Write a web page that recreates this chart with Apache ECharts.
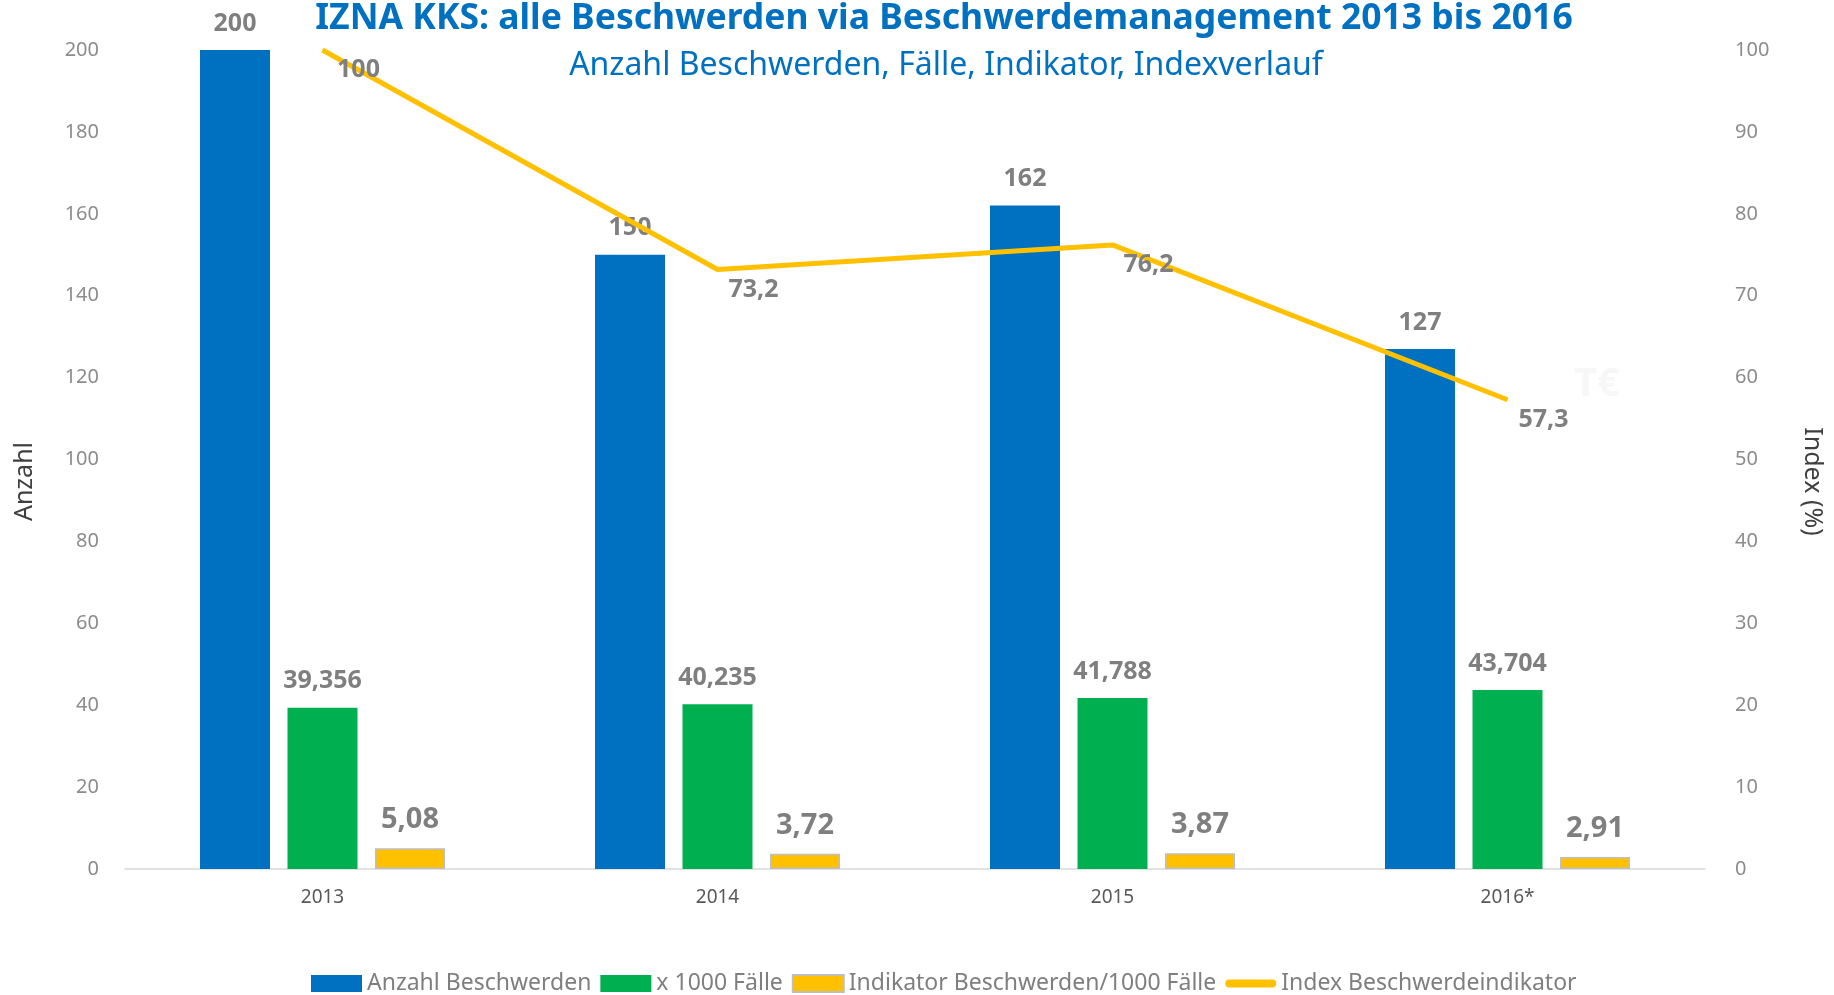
<!DOCTYPE html>
<html>
<head>
<meta charset="utf-8">
<script src="https://cdn.jsdelivr.net/npm/echarts@6/dist/echarts.min.js"></script>
<style>
  html, body { margin: 0; padding: 0; background: #fff; }
  #chart { width: 1834px; height: 995px; }
</style>
</head>
<body>
<div id="chart"></div>
<script>
// data
var years = ['2013', '2014', '2015', '2016*'];
var anzahl = [200, 150, 162, 127];
var faelle = [39.356, 40.235, 41.788, 43.704];
var indikator = [5.08, 3.72, 3.87, 2.91];
var indexVerlauf = [100, 73.2, 76.2, 57.3];

var leftTicks = { min: 0, max: 200, interval: 20 };
var rightTicks = { min: 0, max: 100, interval: 10 };

var FONT = '"Noto Sans", "Open Sans", sans-serif';
var blue = '#0070C0', green = '#00B050', yellow = '#FFC000';
var labelGrey = '#7f7f7f';

function deComma(digits) {
    return function (p) {
        return p.value.toFixed(digits).replace('.', ',');
    };
}

var chart = echarts.init(document.getElementById('chart'));

var option = {
    backgroundColor: '#fff',
    textStyle: { fontFamily: FONT },
    title: [
        {
            text: 'IZNA KKS: alle Beschwerden via Beschwerdemanagement 2013 bis 2016',
            left: 939, top: -4, textAlign: 'center',
            textStyle: { color: blue, fontSize: 35.5, fontWeight: 'bold', fontFamily: FONT }
        },
        {
            text: 'Anzahl Beschwerden, Fälle, Indikator, Indexverlauf',
            left: 941, top: 45, textAlign: 'center',
            textStyle: { color: blue, fontSize: 32, fontWeight: 'normal', fontFamily: FONT }
        }
    ],
    legend: {
        bottom: -5,
        left: 306,
        itemWidth: 51,
        itemHeight: 17,
        itemGap: 9,
        textStyle: { color: '#7f7f7f', fontSize: 23, fontFamily: FONT },
        data: [
            { name: 'Anzahl Beschwerden', icon: 'rect' },
            { name: 'x 1000 Fälle', icon: 'rect' },
            { name: 'Indikator Beschwerden/1000 Fälle', icon: 'rect' },
            { name: 'Index Beschwerdeindikator', icon: 'path://M4,0 L47,0 A4,4 0 0 1 47,8 L4,8 A4,4 0 0 1 4,0 Z' }
        ]
    },
    grid: { left: 125, right: 129, top: 50, bottom: 126 },
    xAxis: {
        type: 'category',
        data: years,
        axisLine: { lineStyle: { color: '#d9d9d9', width: 1.5 } },
        axisTick: { show: false },
        axisLabel: { color: '#595959', fontSize: 19, margin: 19 }
    },
    yAxis: [
        {
            type: 'value',
            min: leftTicks.min, max: leftTicks.max, interval: leftTicks.interval,
            name: 'Anzahl',
            nameLocation: 'middle',
            nameGap: 88,
            nameTextStyle: { color: '#404040', fontSize: 25, fontFamily: FONT, padding: [0, 44, 0, 0] },
            axisLine: { show: false },
            axisTick: { show: false },
            splitLine: { show: false },
            axisLabel: { color: '#8c8c8c', fontSize: 20, margin: 26 }
        },
        {
            type: 'value',
            min: rightTicks.min, max: rightTicks.max, interval: rightTicks.interval,
            name: 'Index (%)',
            nameLocation: 'middle',
            nameGap: 95,
            nameRotate: -90,
            nameTextStyle: { color: '#404040', fontSize: 25, fontFamily: FONT, padding: [0, 0, 0, 44] },
            axisLine: { show: false },
            axisTick: { show: false },
            splitLine: { show: false },
            axisLabel: { color: '#8c8c8c', fontSize: 20, margin: 30 }
        }
    ],
    series: [
        {
            name: 'Anzahl Beschwerden',
            type: 'bar',
            data: anzahl,
            barWidth: 70,
            barGap: '25%',
            itemStyle: { color: blue },
            label: {
                show: true, position: 'top', distance: 14,
                color: labelGrey, fontSize: 25, fontWeight: 'bold'
            }
        },
        {
            name: 'x 1000 Fälle',
            type: 'bar',
            data: faelle,
            barWidth: 70,
            barGap: '25%',
            itemStyle: { color: green },
            label: {
                show: true, position: 'top', distance: 14,
                color: labelGrey, fontSize: 25, fontWeight: 'bold',
                formatter: deComma(3)
            }
        },
        {
            name: 'Indikator Beschwerden/1000 Fälle',
            type: 'bar',
            data: indikator,
            barWidth: 70,
            barGap: '25%',
            itemStyle: { color: yellow, borderColor: '#bfbfbf', borderWidth: 1.5 },
            label: {
                show: true, position: 'top', distance: 14,
                color: labelGrey, fontSize: 29, fontWeight: 'bold',
                formatter: deComma(2)
            }
        },
        {
            name: 'Index Beschwerdeindikator',
            type: 'line',
            yAxisIndex: 1,
            data: indexVerlauf,
            symbol: 'circle',
            symbolSize: 1,
            showSymbol: true,
            lineStyle: { color: yellow, width: 5 },
            itemStyle: { color: yellow },
            z: 5,
            label: {
                show: true, position: 'bottom', distance: 7, offset: [36, 0],
                color: labelGrey, fontSize: 25, fontWeight: 'bold',
                formatter: function (p) {
                    return p.value === 100 ? '100' : p.value.toFixed(1).replace('.', ',');
                }
            }
        }
    ],
    graphic: [
        {
            type: 'text', left: 1574, top: 365,
            style: { text: 'T€', fill: '#f7f7f7', fontSize: 40, fontWeight: 'bold', fontFamily: FONT }
        }
    ]
};

chart.setOption(option);
</script>
</body>
</html>
